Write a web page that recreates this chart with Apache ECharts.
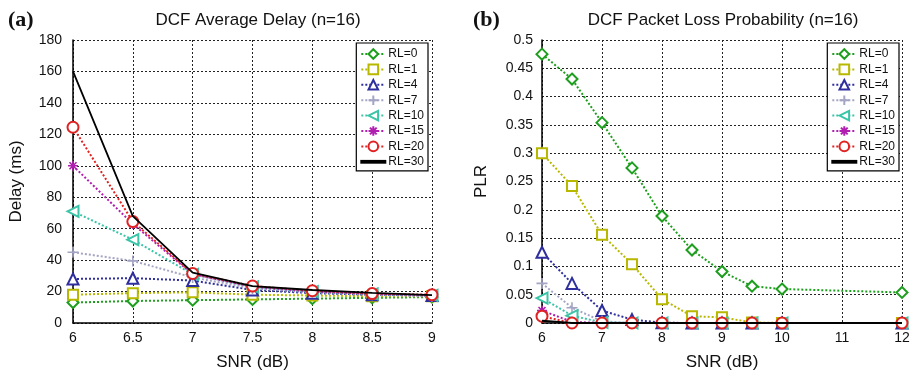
<!DOCTYPE html>
<html>
<head>
<meta charset="utf-8">
<script src="https://cdn.jsdelivr.net/npm/echarts@6/dist/echarts.min.js"></script>
<style>
  html, body { margin: 0; padding: 0; background: #fff; }
  #chart { width: 915px; height: 379px; }
</style>
</head>
<body>
<div id="chart"></div>
<script>
// SNR sample points (dB)
const snrDelay = [6, 6.5, 7, 7.5, 8, 8.5, 9];
const snrPlr = [6, 6.5, 7, 7.5, 8, 8.5, 9, 9.5, 10, 12];

// Series names (retry limit)
const rlNames = ['RL=0', 'RL=1', 'RL=4', 'RL=7', 'RL=10', 'RL=15', 'RL=20', 'RL=30'];

// Average delay (ms)
const delayRL0  = [13, 14, 14.5, 15, 15.5, 16, 16.5];
const delayRL1  = [18, 19, 19.5, 18, 17.5, 17, 17];
const delayRL4  = [28, 28.5, 27, 21, 19, 18, 17.5];
const delayRL7  = [45, 39.5, 29, 22, 19.5, 18, 17];
const delayRL10 = [71, 53, 31, 23, 20, 18.5, 17.5];
const delayRL15 = [100, 63, 31, 23, 20, 18.5, 17.5];
const delayRL20 = [124.5, 64.5, 31.5, 23.5, 20.5, 18.7, 18];
const delayRL30 = [160, 68, 32, 23.5, 21, 19.2, 17.7];

// Packet loss probability
const plrRL0  = [0.475, 0.431, 0.354, 0.274, 0.189, 0.129, 0.091, 0.065, 0.060, 0.054];
const plrRL1  = [0.300, 0.242, 0.156, 0.104, 0.042, 0.012, 0.010, 0.001, 0, 0];
const plrRL4  = [0.125, 0.070, 0.022, 0.006, 0.0005, 0, 0, 0, 0, 0];
const plrRL7  = [0.070, 0.027, 0.003, 0, 0, 0, 0, 0, 0, 0];
const plrRL10 = [0.044, 0.013, 0.001, 0, 0, 0, 0, 0, 0, 0];
const plrRL15 = [0.022, 0.002, 0, 0, 0, 0, 0, 0, 0, 0];
const plrRL20 = [0.012, 0, 0, 0, 0, 0, 0, 0, 0, 0];
const plrRL30 = [0.004, 0, 0, 0, 0, 0, 0, 0, 0, 0];

const delaySets = [delayRL0, delayRL1, delayRL4, delayRL7, delayRL10, delayRL15, delayRL20, delayRL30];
const plrSets = [plrRL0, plrRL1, plrRL4, plrRL7, plrRL10, plrRL15, plrRL20, plrRL30];

// Per-series look
const styles = [
  { color: '#1e9e1e', symbol: 'emptyDiamond', size: 11, rotate: 0 },
  { color: '#b8b800', symbol: 'emptyRect', size: 10, rotate: 0 },
  { color: '#2e2e9e', symbol: 'emptyTriangle', size: 11, rotate: 0 },
  { color: '#a4a4c4', symbol: 'path://M5,0L5,10M0,5L10,5', size: 11, rotate: 0 },
  { color: '#3cc4a8', symbol: 'emptyTriangle', size: 11, rotate: 90 },
  { color: '#b01eb0', symbol: 'path://M5,0L5,10M0,5L10,5M1.5,1.5L8.5,8.5M8.5,1.5L1.5,8.5', size: 10, rotate: 0 },
  { color: '#e02222', symbol: 'emptyCircle', size: 11, rotate: 0 },
  { color: '#000000', symbol: 'none', size: 0, rotate: 0 }
];

const font = 'Liberation Sans, Arial, Helvetica, sans-serif';
const gridLine = { show: true, lineStyle: { color: '#222', type: [2, 2], width: 1 } };

function makeSeries(sets, xs, axisIndex) {
  return sets.map((vals, i) => {
    const st = styles[i];
    const solid = i === rlNames.length - 1;
    return {
      name: rlNames[i],
      type: 'line',
      xAxisIndex: axisIndex,
      yAxisIndex: axisIndex,
      data: xs.map((x, k) => [x, vals[k]]),
      symbol: st.symbol,
      symbolSize: st.size,
      symbolRotate: st.rotate,
      showSymbol: !solid,
      z: solid ? 3 : 2 + i * 0.01,
      clip: false,
      lineStyle: { color: st.color, width: solid ? 1.8 : 2, type: solid ? 'solid' : [2, 2] },
      itemStyle: { color: st.color, borderColor: st.color, borderWidth: 1.6 },
      emphasis: { disabled: true },
      animation: false
    };
  });
}

// Legend entries; the solid curve gets a plain line icon
const legendEntries = rlNames.map((n, i) =>
  i === rlNames.length - 1
    ? { name: n, icon: 'path://M0,0L24,0L24,1.8L0,1.8Z' }
    : { name: n });

function makeLegend(rightPos) {
  return {
    orient: 'vertical',
    right: rightPos,
    top: 43,
    data: legendEntries,
    backgroundColor: '#fff',
    borderColor: '#000',
    borderWidth: 1.2,
    padding: [5, 4, 3, 4],
    itemGap: 3.4,
    itemWidth: 24,
    itemHeight: 12,
    selectedMode: false,
    textStyle: { fontFamily: font, fontSize: 12, color: '#111', padding: [0, 0, 0, -2] }
  };
}

const chart = echarts.init(document.getElementById('chart'));
chart.setOption({
  backgroundColor: '#fff',
  animation: false,
  title: [
    { text: '(a)', left: 3, top: 4, textStyle: { fontFamily: 'Liberation Serif, DejaVu Serif, serif', fontWeight: 'bold', fontSize: 22, color: '#111' } },
    { text: 'DCF Average Delay (n=16)', left: 253, top: 7, textAlign: 'center', textStyle: { fontFamily: font, fontWeight: 'normal', fontSize: 17, color: '#111' } },
    { text: '(b)', left: 468, top: 4, textStyle: { fontFamily: 'Liberation Serif, DejaVu Serif, serif', fontWeight: 'bold', fontSize: 22, color: '#111' } },
    { text: 'DCF Packet Loss Probability (n=16)', left: 718, top: 7, textAlign: 'center', textStyle: { fontFamily: font, fontWeight: 'normal', fontSize: 17, color: '#111' } }
  ],
  legend: [makeLegend(487), makeLegend(16)],
  grid: [
    { left: 73, right: 483, top: 40, bottom: 56 },
    { left: 542, right: 13, top: 40, bottom: 56 }
  ],
  xAxis: [
    {
      type: 'value', gridIndex: 0, min: 6, max: 9, interval: 0.5,
      name: 'SNR (dB)', nameLocation: 'middle', nameGap: 31,
      nameTextStyle: { fontFamily: font, fontSize: 17, color: '#111' },
      axisLine: { show: true, onZero: false, lineStyle: { color: '#000', width: 1.5 } },
      axisTick: { show: false },
      axisLabel: { fontFamily: font, fontSize: 14, color: '#111', margin: 8 },
      splitLine: gridLine
    },
    {
      type: 'value', gridIndex: 1, min: 6, max: 12, interval: 1,
      name: 'SNR (dB)', nameLocation: 'middle', nameGap: 31,
      nameTextStyle: { fontFamily: font, fontSize: 17, color: '#111' },
      axisLine: { show: true, onZero: false, lineStyle: { color: '#000', width: 1.5 } },
      axisTick: { show: false },
      axisLabel: { fontFamily: font, fontSize: 14, color: '#111', margin: 8 },
      splitLine: gridLine
    }
  ],
  yAxis: [
    {
      type: 'value', gridIndex: 0, min: 0, max: 180, interval: 20,
      name: 'Delay (ms)', nameLocation: 'middle', nameGap: 48,
      nameTextStyle: { fontFamily: font, fontSize: 17, color: '#111' },
      axisLine: { show: true, onZero: false, lineStyle: { color: '#000', width: 1.5 } },
      axisTick: { show: false },
      axisLabel: { fontFamily: font, fontSize: 14, color: '#111', margin: 11 },
      splitLine: gridLine
    },
    {
      type: 'value', gridIndex: 1, min: 0, max: 0.5, interval: 0.05,
      name: 'PLR', nameLocation: 'middle', nameGap: 52,
      nameTextStyle: { fontFamily: font, fontSize: 17, color: '#111' },
      axisLine: { show: true, onZero: false, lineStyle: { color: '#000', width: 1.5 } },
      axisTick: { show: false },
      axisLabel: {
        fontFamily: font, fontSize: 14, color: '#111', margin: 9,
        formatter: v => String(Math.round(v * 100) / 100)
      },
      splitLine: gridLine
    }
  ],
  series: makeSeries(delaySets, snrDelay, 0).concat(makeSeries(plrSets, snrPlr, 1))
});
</script>
</body>
</html>
